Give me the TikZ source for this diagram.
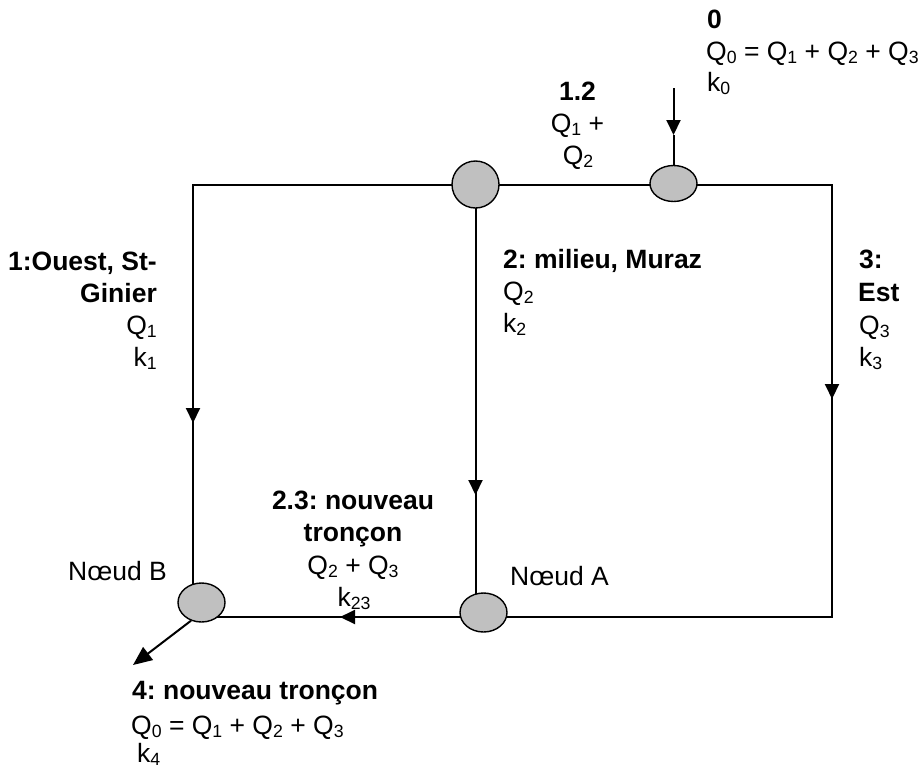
\documentclass[tikz,border=0pt]{standalone}
\usepackage{fontspec}
\setmainfont{Liberation Sans}
\usetikzlibrary{shapes.geometric,arrows.meta,backgrounds}
\definecolor{nodegray}{HTML}{C0C0C0}
\newcommand\lowidx[1]{\raisebox{-3.5pt}{\fontsize{17.7}{20}\selectfont #1}}
\newcommand\Qsub[1]{Q\lowidx{#1}}
\newcommand\ksub[1]{k\lowidx{#1}}
\frenchspacing
\begin{document}
\begin{tikzpicture}[x=1pt,y=-1pt,
  junction/.style={ellipse,draw,line width=1.4pt,fill=nodegray,inner sep=0pt,minimum width=47pt},
  pipe/.style={line width=2pt},
  flow/.style={pipe,-{Triangle[length=15pt,width=14pt]}},
  outflow/.style={pipe,-{Triangle[length=19pt,width=16pt]}},
  lbl/.style={inner sep=0pt,font=\fontsize{26.5}{31}\selectfont},
  lblb/.style={lbl,font=\fontsize{26.5}{31}\selectfont\bfseries},
]
\useasboundingbox (0,0) rectangle (923,769);

% junctions
\node[junction,minimum height=47pt] (n12) at (475.5,184.5) {};
\node[junction,minimum height=36pt] (n0) at (673.5,183.5) {};
\node[junction,minimum height=39pt] (nB) at (201.5,602.5) {};
\node[junction,minimum height=39pt] (nA) at (483.5,612.5) {};

% corners and arrow tips
\coordinate (ctl) at (193,184.5);
\coordinate (ctr) at (832,184.5);
\coordinate (cbr) at (832,617);
\coordinate (tipL) at (193,423);
\coordinate (tipM) at (475.5,495);
\coordinate (tipR) at (832,399);
\coordinate (tipBot) at (340,617);
\coordinate (src) at (673.5,88);
\coordinate (tipIn) at (673.5,135);
\coordinate (tipOut) at (133,665);

\begin{scope}[on background layer]
  \draw[pipe,line join=miter] (ctl |- nB) -- (ctl) -- (ctr) -- (cbr) -- (nB.center |- cbr);
  \draw[pipe] (n12.center) -- (n12.center |- nA);
  \draw[flow] (ctl) -- (tipL);
  \draw[flow] (n12) -- (tipM);
  \draw[flow] (ctr) -- (tipR);
  \draw[flow] (cbr) -- (tipBot);
  \draw[flow] (src) -- (tipIn);
  \draw[pipe] (tipIn) -- (n0);
  \draw[outflow] (nB.-120) -- (tipOut);
\end{scope}

% inflow 0
\node[lblb,anchor=base west] (t0a) at (707,28) {0};
\node[lbl,anchor=base west] (t0b) at (706,60) {\Qsub{0} = \Qsub{1} + \Qsub{2} + \Qsub{3}};
\node[lbl,anchor=base west] (t0c) at (707,91) {\ksub{0}};

% segment 1.2
\node[lblb,anchor=base] (t12a) at (577.5,100) {1.2};
\node[lbl,anchor=base] (t12b) at (577.5,132) {\Qsub{1} +};
\node[lbl,anchor=base] (t12c) at (578,164) {\Qsub{2}};

% branch 1
\node[lblb,anchor=base east] (t1a) at (157,270) {1:Ouest, St-};
\node[lblb,anchor=base east] (t1b) at (157,302) {Ginier};
\node[lbl,anchor=base east] (t1c) at (157,334) {\Qsub{1}};
\node[lbl,anchor=base east] (t1d) at (157,366) {\ksub{1}};

% branch 2
\node[lblb,anchor=base west] (t2a) at (503,268) {2: milieu, Muraz};
\node[lbl,anchor=base west] (t2b) at (503,300) {\Qsub{2}};
\node[lbl,anchor=base west] (t2c) at (503,332) {\ksub{2}};

% branch 3
\node[lblb,anchor=base west] (t3a) at (859,268) {3:};
\node[lblb,anchor=base west] (t3b) at (858,301) {Est};
\node[lbl,anchor=base west] (t3c) at (859,334) {\Qsub{3}};
\node[lbl,anchor=base west] (t3d) at (859,366) {\ksub{3}};

% segment 2.3
\node[lblb,anchor=base] (t23a) at (353,509) {2.3: nouveau};
\node[lblb,anchor=base] (t23b) at (353,541) {tronçon};
\node[lbl,anchor=base] (t23c) at (353,574) {\Qsub{2} + \Qsub{3}};
\node[lbl,anchor=base] (t23d) at (354,606) {\ksub{23}};

% junction names
\node[lbl,anchor=base west] (tB) at (68,580) {Nœud B};
\node[lbl,anchor=base west] (tA) at (510,585) {Nœud A};

% outflow 4
\node[lblb,anchor=base west] (t4a) at (132,699) {4: nouveau tronçon};
\node[lbl,anchor=base west] (t4b) at (131,734) {\Qsub{0} = \Qsub{1} + \Qsub{2} + \Qsub{3}};
\node[lbl,anchor=base west] (t4c) at (137,762) {\ksub{4}};
\end{tikzpicture}
\end{document}
